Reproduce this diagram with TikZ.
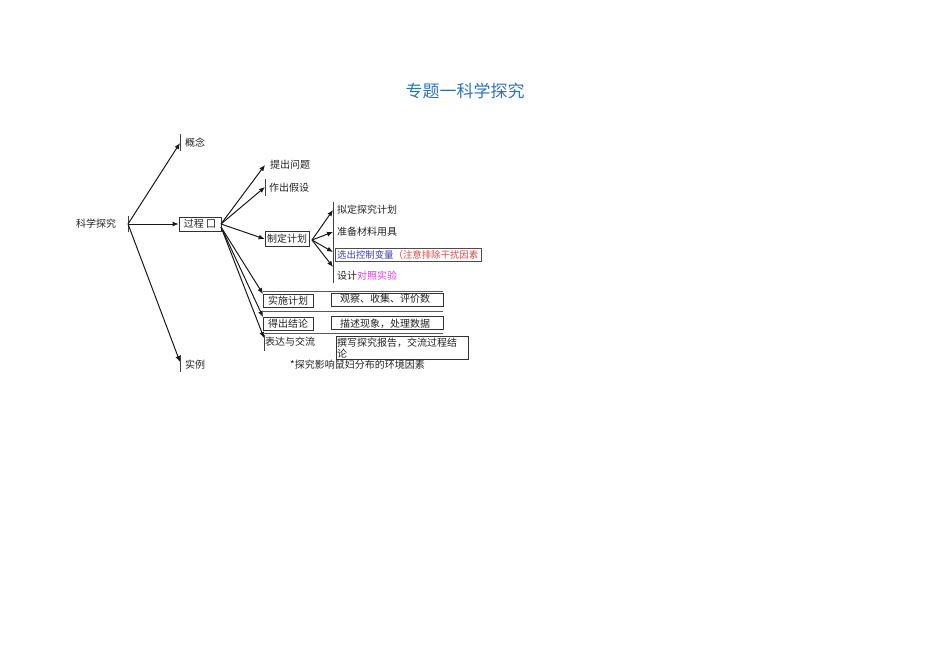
\documentclass[tikz,border=0pt]{standalone}
\usepackage{fontspec}
\setmainfont{Noto Sans CJK SC}
\usetikzlibrary{arrows.meta}
\definecolor{titleblue}{HTML}{2E74B5}
\definecolor{txt}{HTML}{222222}
\definecolor{selblue}{HTML}{3B3BC8}
\definecolor{warnred}{HTML}{E04848}
\definecolor{mag}{HTML}{E040E0}
\tikzset{
  lbl/.style={anchor=west,inner sep=0pt,font=\fontsize{10}{11}\selectfont,text=txt},
  boxnode/.style={draw=black!80,line width=0.7pt,inner sep=0pt,font=\fontsize{10}{11}\selectfont,text=txt},
  arr/.style={-{Latex[length=6pt,width=5pt]},line width=1pt,draw=black!90},
  bar/.style={line width=0.9pt,draw=black!75},
  rule/.style={line width=0.7pt,draw=black!65}
}
\begin{document}
\begin{tikzpicture}[x=1pt,y=-1pt]
\useasboundingbox (0,0) rectangle (950,671);
% title
\node[font=\fontsize{17}{19}\selectfont,text=titleblue] (title) at (465,91) {专题一科学探究};
% root
\node[lbl] (root) at (76,224) {科学探究};
\coordinate (r) at (128,224);
\draw[bar] (128,216) -- (128,232);
% level 1
\coordinate (gn) at (180,143);
\draw[bar] (180,134) -- (180,151);
\node[lbl] (gainian) at (185,143) {概念};
\node[boxnode,minimum width=42pt,minimum height=14pt] (guocheng) at (200,224) {过程 囗};
\coordinate (sl) at (180,362);
\draw[bar] (180,355) -- (180,372);
\node[lbl] (shili) at (185,365) {实例};
\draw[arr] (r) -- (gn);
\draw[arr] (r) -- (guocheng.west);
\draw[arr] (r) -- (sl);
% level 2
\coordinate (go) at (221,224);
\coordinate (go2) at (221,227);
\coordinate (tw) at (265,165);
\node[lbl] (tiwen) at (270,165) {提出问题};
\coordinate (js) at (265,187);
\draw[bar] (265,179) -- (265,196);
\node[lbl] (jiashe) at (269,188) {作出假设};
\node[boxnode,minimum width=44pt,minimum height=15pt] (zhiding) at (287,239) {制定计划};
\coordinate (ss) at (263,294);
\coordinate (dc) at (263,317);
\coordinate (bd) at (264,338);
\draw[bar] (264,335) -- (264,351);
\draw[arr] (go) -- (tw);
\draw[arr] (go) -- (js);
\draw[arr] (go) -- (zhiding.west);
\draw[arr] (go2) -- (ss);
\draw[arr] (go2) -- (dc);
\draw[arr] (go2) -- (bd);
% level 3 under 制定计划
\coordinate (zo) at (312,240);
\draw[bar] (333,202) -- (333,283);
\coordinate (p1) at (333,210);
\coordinate (p2) at (333,232);
\coordinate (p3) at (333,252);
\coordinate (p4) at (333,267);
\draw[arr] (zo) -- (p1);
\draw[arr] (zo) -- (p2);
\draw[arr] (zo) -- (p3);
\draw[arr] (zo) -- (p4);
\node[lbl] (niding) at (337,210) {拟定探究计划};
\node[lbl] (zhunbei) at (337,232) {准备材料用具};
\node[draw=black!70,line width=0.7pt,minimum width=146pt,minimum height=13pt,inner sep=0pt] (xuanbox) at (408,254.5) {};
\node[lbl,font=\fontsize{9.4}{11}\selectfont] (xuanchu) at (337,254.5) {\textcolor{selblue}{选出控制变量}\textcolor{warnred}{（注意排除干扰因素}};
\node[lbl] (sheji) at (337,276) {设计\textcolor{mag}{对照实验}};
% lower rows
\draw[rule] (263,291) -- (443,291);
\draw[rule] (263,311) -- (443,311);
\draw[rule] (263,333) -- (443,333);
\node[boxnode,minimum width=50pt,minimum height=13pt] (shishi) at (288,301) {实施计划};
\node[draw=black!80,line width=0.7pt,minimum width=112pt,minimum height=13pt,inner sep=0pt] (guanbox) at (387,299.5) {};
\node[lbl] (guancha) at (340,299) {观察、收集、评价数};
\node[boxnode,minimum width=50pt,minimum height=13pt] (dechu) at (288,324) {得出结论};
\node[draw=black!80,line width=0.7pt,minimum width=112pt,minimum height=13pt,inner sep=0pt] (miaobox) at (387,323) {};
\node[lbl] (miaoshu) at (340,324) {描述现象，处理数据};
\node[lbl] (biaoda) at (265,342) {表达与交流};
\node[draw=black!80,line width=0.7pt,minimum width=132pt,minimum height=23pt,inner sep=0pt] (zhuanbox) at (402,348) {};
\node[lbl,align=left,font=\fontsize{10}{11}\selectfont] (zhuanxie) at (337,348) {撰写探究报告，交流过程结\\论};
\node[lbl] (note) at (290,365) {*探究影响鼠妇分布的环境因素};
\end{tikzpicture}
\end{document}
